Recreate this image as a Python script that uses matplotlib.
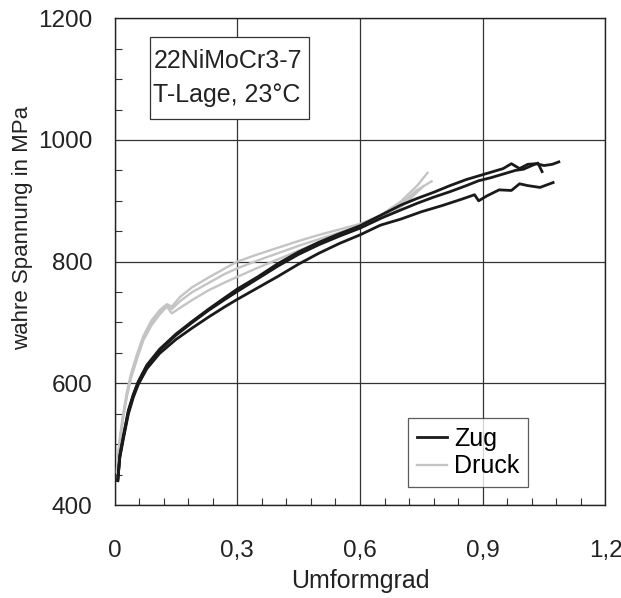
import matplotlib
matplotlib.use("Agg")
import matplotlib.pyplot as plt
from matplotlib.ticker import MultipleLocator
from matplotlib.lines import Line2D
from matplotlib.patches import Rectangle

plt.rcParams['font.family'] = ['Liberation Sans', 'DejaVu Sans']

# Zug (tension) curves
zug1_x = [0.008, 0.013, 0.022, 0.034, 0.046, 0.058, 0.079, 0.11, 0.15, 0.19, 0.23, 0.27, 0.30, 0.35,
          0.40, 0.45, 0.50, 0.55, 0.60, 0.65, 0.70, 0.74, 0.78, 0.82, 0.86, 0.89, 0.92, 0.95, 0.97,
          0.99, 1.01, 1.03, 1.05, 1.07, 1.086]
zug1_y = [440, 482, 515, 556, 582, 603, 630, 656, 681, 702, 722, 741, 755, 775,
          797, 816, 832, 846, 859, 876, 893, 904, 914, 925, 935, 941, 947, 953, 961,
          953, 960, 961, 958, 960, 964]

zug2_x = [0.008, 0.013, 0.022, 0.034, 0.046, 0.058, 0.079, 0.11, 0.15, 0.19, 0.23, 0.27, 0.30, 0.35,
          0.40, 0.45, 0.50, 0.55, 0.60, 0.65, 0.70, 0.74, 0.78, 0.82, 0.86, 0.89, 0.92, 0.95, 0.98,
          1.00, 1.02, 1.035, 1.04, 1.045]
zug2_y = [440, 480, 513, 554, 580, 601, 628, 654, 679, 700, 720, 738, 751, 772,
          793, 812, 828, 842, 855, 871, 885, 896, 906, 915, 925, 933, 938, 944, 950,
          952, 958, 962, 955, 948]

zug3_x = [0.008, 0.013, 0.022, 0.034, 0.046, 0.058, 0.079, 0.11, 0.15, 0.19, 0.23, 0.27, 0.30, 0.35,
          0.40, 0.45, 0.50, 0.55, 0.60, 0.65, 0.70, 0.75, 0.80, 0.85, 0.88, 0.89, 0.91, 0.94, 0.97,
          0.99, 1.01, 1.04, 1.072]
zug3_y = [442, 478, 510, 550, 577, 598, 624, 649, 672, 691, 709, 726, 738, 757,
          776, 796, 814, 830, 844, 860, 870, 882, 892, 903, 910, 900, 908, 918, 917,
          928, 925, 922, 930]

# Druck (compression) curves
druck1_x = [0.006, 0.012, 0.02, 0.03, 0.04, 0.055, 0.07, 0.09, 0.11, 0.128, 0.14, 0.16, 0.19, 0.23,
            0.27, 0.30, 0.35, 0.40, 0.45, 0.50, 0.55, 0.60, 0.65, 0.70, 0.74, 0.765]
druck1_y = [460, 505, 545, 585, 615, 648, 677, 703, 720, 730, 726, 742, 758, 774,
            789, 800, 812, 823, 834, 844, 853, 862, 876, 899, 925, 946]

druck2_x = [0.006, 0.012, 0.02, 0.03, 0.04, 0.055, 0.07, 0.09, 0.11, 0.128, 0.14, 0.16, 0.19, 0.23,
            0.27, 0.30, 0.35, 0.40, 0.45, 0.50, 0.55, 0.60, 0.65, 0.70, 0.74, 0.775]
druck2_y = [455, 500, 540, 580, 610, 643, 672, 698, 716, 728, 722, 735, 750, 765,
            780, 789, 802, 814, 826, 837, 848, 858, 873, 895, 918, 932]

druck3_x = [0.006, 0.012, 0.02, 0.03, 0.04, 0.055, 0.07, 0.09, 0.11, 0.128, 0.14, 0.16, 0.19, 0.23,
            0.27, 0.30, 0.35, 0.40, 0.45, 0.50, 0.55, 0.60, 0.65, 0.70, 0.73, 0.755]
druck3_y = [455, 498, 538, 578, 608, 640, 670, 695, 713, 726, 715, 724, 737, 753,
            766, 775, 790, 804, 818, 832, 845, 856, 870, 890, 908, 924]

x_ticks = [0, 0.3, 0.6, 0.9, 1.2]
x_labels = ['0', '0,3', '0,6', '0,9', '1,2']
y_ticks = [400, 600, 800, 1000, 1200]

fs = 18
fig = plt.figure(figsize=(6.21, 5.98), dpi=100)
ax = fig.add_axes([0.1844, 0.1555, 0.7906, 0.8139])

zug_col = '#1a1a1a'
druck_col = '#c4c4c4'
for xs, ys in [(druck1_x, druck1_y), (druck2_x, druck2_y), (druck3_x, druck3_y)]:
    ax.plot(xs, ys, color=druck_col, lw=1.7, zorder=3)
for xs, ys in [(zug1_x, zug1_y), (zug2_x, zug2_y), (zug3_x, zug3_y)]:
    ax.plot(xs, ys, color=zug_col, lw=2.0, zorder=4)

ax.set_xlim(0, 1.2)
ax.set_ylim(400, 1200)
ax.set_xticks(x_ticks)
ax.set_xticklabels(x_labels)
ax.set_yticks(y_ticks)
ax.xaxis.set_minor_locator(MultipleLocator(0.06))
ax.yaxis.set_minor_locator(MultipleLocator(50))
ax.tick_params(which='major', length=0, labelsize=17.5, colors='#222222')
ax.tick_params(axis='x', which='major', pad=25)
ax.tick_params(axis='y', which='major', pad=16)
ax.tick_params(which='minor', direction='in', length=5, width=0.8, color='#333333')
ax.grid(True, which='major', color='#333333', lw=0.9)
for s in ax.spines.values():
    s.set_color('#222222')
    s.set_linewidth(1.0)

ax.set_xlabel('Umformgrad', fontsize=fs, color='#222222', labelpad=5)
ax.set_ylabel('wahre Spannung in MPa', fontsize=16, color='#222222')
ax.yaxis.set_label_coords(-0.166, 0.569)

ax.add_patch(Rectangle((0.072, 0.793), 0.324, 0.169, transform=ax.transAxes, fc='white',
                       ec='#333333', lw=0.9, zorder=6))
ax.text(0.079, 0.877, '22NiMoCr3-7\nT-Lage, 23°C', transform=ax.transAxes, fontsize=fs,
        color='#222222', va='center', ha='left', linespacing=1.5, zorder=7)

handles = [Line2D([], [], color=zug_col, lw=2.0), Line2D([], [], color=druck_col, lw=1.7)]
leg = ax.legend(handles, ['Zug', 'Druck'], loc='lower left', bbox_to_anchor=(0.598, 0.037),
                borderaxespad=0, fontsize=fs, frameon=True, fancybox=False, edgecolor='#333333',
                handlelength=1.2, handletextpad=0.3, borderpad=0.35, labelspacing=0.15)
leg.get_frame().set_linewidth(0.9)
leg.set_zorder(6)

fig.savefig('out.png', dpi=100)
